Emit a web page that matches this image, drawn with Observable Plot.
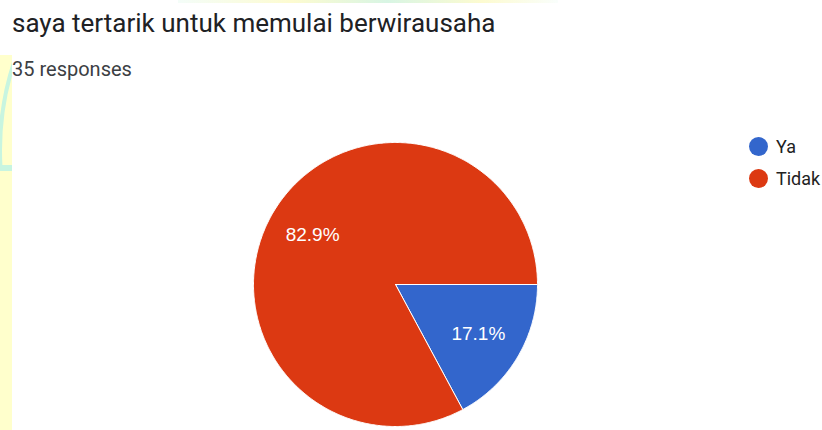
<!DOCTYPE html>
<html>
<head>
<meta charset="utf-8">
<script src="https://cdn.jsdelivr.net/npm/d3@7"></script>
<script src="https://cdn.jsdelivr.net/npm/@observablehq/plot@0.6"></script>
<style>
  html, body { margin: 0; padding: 0; background: #fff; }
  #page { position: relative; width: 822px; height: 430px; overflow: hidden; background: #fff; }
  #strip { position: absolute; left: 0; top: 55px; width: 12px; height: 375px; background: #ffffcc; overflow: hidden; }
  #strip .clip { position: absolute; left: 0; top: 0; width: 12px; height: 110px; overflow: hidden; }
  #strip .ring { position: absolute; left: -2px; top: -189px; width: 568px; height: 568px; border: 4px solid #c8f5e0; border-radius: 50%; box-sizing: border-box; }
  #strip .band { position: absolute; left: 0; top: 110px; width: 12px; height: 6px; background: #c8f5e0; }
  #topband { position: absolute; left: 178px; top: 0; width: 380px; height: 3px; background: linear-gradient(90deg, rgba(200,245,224,0.2), #fdfbd0 30%, #d8f5e4 55%, #fdfbd0 80%, rgba(200,245,224,0.1)); }
  #head { position: relative; height: 90px; }
  #title { position: absolute; left: 12px; top: 8px; font-family: Roboto, sans-serif; font-size: 26px; color: #202124; white-space: nowrap; }
  #sub { position: absolute; left: 12px; top: 57px; font-family: Roboto, sans-serif; font-size: 20px; color: #3c4043; white-space: nowrap; }
  #chart { position: absolute; left: 0; top: 90px; }
  #legend { position: absolute; left: 749px; top: 130px; font-family: Roboto, Arial, sans-serif; font-size: 18px; color: #222; }
  #legend .item { display: flex; align-items: center; height: 32px; }
  #legend .sw { width: 19px; height: 19px; border-radius: 50%; margin-right: 8px; }
</style>
</head>
<body>
<div id="page">
  <div id="strip"><div class="clip"><div class="ring"></div></div><div class="band"></div></div>
  <div id="topband"></div>
  <div id="head">
    <div id="title"></div>
    <div id="sub"></div>
  </div>
  <div id="chart"></div>
  <div id="legend"></div>
</div>
<script>
// ---- data ----
const titleText = "saya tertarik untuk memulai berwirausaha";
const totalResponses = 35;
const categories = ["Ya", "Tidak"];
const counts = [6, 29];
const colors = ["#3366cc", "#dc3912"];

document.getElementById("title").textContent = titleText;
document.getElementById("sub").textContent = `${totalResponses} responses`;

// ---- pie geometry from data (start at 3 o'clock, clockwise) ----
const total = d3.sum(counts);
const startAngle = Math.PI / 2;
let acc = startAngle;
const slices = categories.map((c, i) => {
  const a0 = acc;
  const a1 = acc + (2 * Math.PI * counts[i]) / total;
  acc = a1;
  return {slice: c, a0, a1, value: counts[i]};
});

const pts = [];
for (const s of slices) {
  pts.push({slice: s.slice, x: 0, y: 0});
  const n = Math.max(2, Math.ceil((s.a1 - s.a0) / (Math.PI / 360)));
  for (let k = 0; k <= n; k++) {
    const a = s.a0 + ((s.a1 - s.a0) * k) / n;
    pts.push({slice: s.slice, x: Math.sin(a), y: Math.cos(a)});
  }
  pts.push({slice: s.slice, x: 0, y: 0});
}

const labels = slices.map(s => {
  const m = (s.a0 + s.a1) / 2;
  const r = 0.68;
  return {x: r * Math.sin(m), y: r * Math.cos(m), text: (100 * s.value / total).toFixed(1) + "%"};
});

const cx = 395, cy = 194, R = 142;
const chart = Plot.plot({
  width: 822,
  height: 340,
  margin: 0,
  x: {domain: [-1, 1], range: [cx - R, cx + R], axis: null},
  y: {domain: [-1, 1], range: [cy + R, cy - R], axis: null},
  color: {domain: categories, range: colors},
  style: {background: "transparent", overflow: "visible"},
  marks: [
    Plot.line(pts, {x: "x", y: "y", z: "slice", fill: "slice", stroke: "white", strokeWidth: 1, strokeLinejoin: "round"}),
    Plot.text(labels, {x: "x", y: "y", text: "text", fill: "white", fontSize: 19, fontFamily: "'Liberation Sans', Arial, sans-serif"})
  ]
});
document.getElementById("chart").appendChild(chart);

// ---- legend ----
const lg = document.getElementById("legend");
categories.forEach((c, i) => {
  const it = document.createElement("div");
  it.className = "item";
  const sw = document.createElement("div");
  sw.className = "sw";
  sw.style.background = colors[i];
  const t = document.createElement("span");
  t.textContent = c;
  it.appendChild(sw);
  it.appendChild(t);
  lg.appendChild(it);
});
</script>
</body>
</html>
